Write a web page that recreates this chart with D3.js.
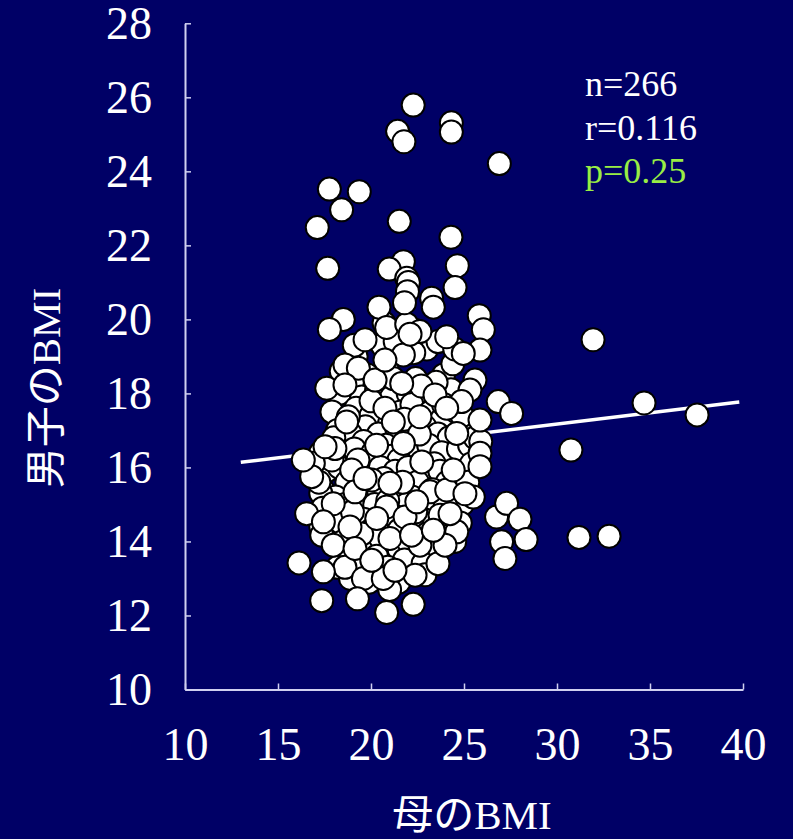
<!DOCTYPE html>
<html>
<head>
<meta charset="utf-8">
<script src="https://cdn.jsdelivr.net/npm/d3@7"></script>
<style>
html,body{margin:0;padding:0;background:#000066;}
svg{display:block;}
text{font-family:"Liberation Serif","Times New Roman","Noto Sans CJK JP",serif;fill:#ffffff;}
</style>
</head>
<body>
<svg id="chart" width="793" height="839"></svg>
<script>
// ---- data ----
const motherBMI = [
 19.8,20.9,22.4,23.9,19.0,
 18.3,19.5,20.3,21.1,22.0,22.9,24.3,23.5,
 17.9,19.2,20.0,21.6,22.2,23.2,23.8,24.6,19.7,21.0,
 18.2,18.9,20.4,21.4,22.1,22.9,23.6,24.2,25.1,19.6,20.8,
 17.3,18.5,19.1,20.1,21.1,22.4,23.1,23.8,24.7,25.3,19.8,21.5,23.4,
 17.6,18.3,19.4,20.5,21.3,22.0,23.0,23.7,24.8,25.4,18.7,20.7,22.5,24.1,
 17.4,18.1,19.7,20.4,21.4,22.2,23.5,24.5,18.6,19.3,21.9,23.0,24.9,20.2,
 17.8,18.4,19.6,20.6,21.2,22.0,22.8,23.4,24.2,19.0,21.5,23.0,20.0,
 18.5,19.8,20.5,21.5,22.0,23.3,24.5,18.8,20.3,21.8,22.8,19.4,20.9,
 18.2,19.9,21.5,22.9,18.9,21.0,
 20.0,21.8,22.6,20.3,19.3,21.7,23.3,20.9,22.4,19.5,24.0,18.0,23.9,21.2,22.7,20.6,23.0,19.2,24.4,22.3,
 17.3,17.4,25.2,25.6,24.9,18.4,20.7,22.4,23.6,19.1,21.3,24.5,17.9,17.3,24.8,18.6,23.6,20.1,25.9,17.2,
 22.27,21.43,21.77,24.32,24.32,26.90,17.76,19.37,18.42,17.11,
 21.52,24.30,17.67,21.74,20.98,24.64,21.92,22.01,21.96,24.52,
 23.26,23.35,20.43,18.51,17.76,19.68,20.84,21.92,22.63,24.07,
 25.82,26.04,25.86,24.96,21.74,18.60,19.32,20.22,21.65,17.62,
 18.60,23.44,25.59,25.32,24.87,26.84,27.56,20.75,18.78,22.63,
 24.07,25.86,18.69,24.61,25.86,25.86,21.74,22.73,18.06,16.90,
 16.81,18.96,20.04,21.02,19.14,23.17,24.07,24.42,25.50,20.84,
 21.83,23.71,24.61,18.87,17.35,17.97,19.14,21.02,22.63,23.98,
 16.54,16.13,17.44,19.59,20.66,22.37,17.35,19.27,20.84,22.27,
 26.75,27.29,28.01,27.02,27.20,28.34,31.94,30.75,34.68,37.53,
 31.18,32.80,
 21.8,22.1,20.75,21.2,17.53,16.36,19.68,22.46,17.97,17.44,
 20.31,22.18,20.04,21.29,23.35,24.25,25.05
];
const sonBMI = [
 18.5,18.6,18.4,18.5,18.3,
 18.0,17.9,18.1,17.9,18.0,17.8,18.1,18.3,
 17.5,17.6,17.4,17.5,17.7,17.5,17.3,17.5,17.1,17.2,
 17.0,16.9,16.9,17.0,16.8,17.1,16.9,16.8,17.0,16.7,16.6,
 16.4,16.3,16.5,16.4,16.3,16.5,16.6,16.4,16.5,16.6,16.1,16.2,16.1,
 15.9,16.0,15.8,16.0,15.9,16.0,15.8,15.9,15.8,16.1,15.6,15.7,15.6,15.6,
 15.4,15.2,15.2,15.4,15.3,15.2,15.1,15.4,15.0,14.9,15.0,14.9,15.0,15.0,
 14.6,14.5,14.6,14.5,14.7,14.5,14.6,14.5,14.4,14.8,14.3,14.2,14.3,
 14.0,13.9,14.1,13.8,14.0,13.8,14.0,13.6,13.6,13.5,13.4,13.4,13.3,
 13.3,12.9,12.9,13.1,13.0,12.7,
 17.8,17.3,16.9,16.6,16.2,15.6,15.4,15.1,14.8,14.2,15.0,16.8,17.7,18.4,18.2,19.3,19.2,19.0,18.8,19.1,
 15.3,14.9,15.6,16.8,17.4,18.6,19.9,19.7,19.4,19.3,19.4,19.2,16.2,14.4,14.5,13.3,13.4,13.2,16.7,15.6,
 25.79,25.08,24.80,25.31,25.06,24.21,23.52,23.45,22.96,22.48,
 22.65,22.22,21.38,21.56,21.36,21.45,21.11,21.00,20.75,20.86,
 20.57,20.33,20.33,20.00,19.73,19.45,19.78,19.87,19.67,19.53,
 20.10,19.72,19.17,19.08,19.04,18.77,18.68,18.36,18.27,18.14,
 18.23,17.96,18.36,18.09,17.78,17.78,17.46,17.60,17.37,17.37,
 17.60,17.28,17.23,16.92,16.38,16.02,16.65,16.15,16.51,16.11,
 15.75,15.93,15.66,15.57,15.34,15.34,15.39,15.93,15.20,14.93,
 14.66,14.71,14.26,14.39,14.17,13.90,13.81,14.08,13.90,13.90,
 14.75,13.42,13.18,13.00,13.00,13.09,12.40,12.45,12.08,12.30,
 14.66,15.03,14.60,13.99,13.54,14.05,19.45,16.47,17.74,17.42,
 14.11,14.14,
 20.45,19.6,18.90,17.23,16.56,16.2,15.70,15.07,15.02,14.53,
 14.62,14.17,13.49,13.22,14.30,14.75,15.29
];
const xTicks = [10,15,20,25,30,35,40];
const yTicks = [10,12,14,16,18,20,22,24,26,28];
const trendX = [13.0, 39.8];
const trendY = [16.14, 17.77];
const statLines = ["n=266","r=0.116","p=0.25"];
const statColors = ["#ffffff","#ffffff","#99ee44"];
const xTitle = "母のBMI";
const yTitle = "男子のBMI";

// ---- chart ----
const svg = d3.select("#chart");
svg.append("rect").attr("width",793).attr("height",839).attr("fill","#000066");

const x = d3.scaleLinear().domain([10,40]).range([185,743]);
const y = d3.scaleLinear().domain([10,28]).range([689.5,23.3]);
const axisColor = "#d0d0f0";

const gx = svg.append("g").attr("transform","translate(0,689.5)")
  .call(d3.axisBottom(x).tickValues(xTicks).tickSizeInner(-6).tickSizeOuter(0).tickPadding(38).tickFormat(d3.format("d")));
const gy = svg.append("g").attr("transform","translate(185,0)")
  .call(d3.axisLeft(y).tickValues(yTicks).tickSizeInner(-6).tickSizeOuter(0).tickPadding(33).tickFormat(d3.format("d")));
[gx,gy].forEach(g=>{
  g.select(".domain").attr("stroke",axisColor).attr("stroke-width",2);
  g.selectAll(".tick line").attr("stroke",axisColor).attr("stroke-width",1.5);
  g.selectAll(".tick text").attr("fill","#ffffff").attr("font-size",46)
    .attr("font-family",'"Liberation Serif","Times New Roman",serif');
});

// trend line
const pts = motherBMI.map((m,i)=>({m, s:sonBMI[i]}));
const tline = d3.line().x(d=>x(d[0])).y(d=>y(d[1]));
svg.append("path").datum(trendX.map((v,i)=>[v,trendY[i]]))
  .attr("d",tline).attr("stroke","#ffffff").attr("stroke-width",3.5).attr("fill","none");

// points
svg.append("g").selectAll("circle").data(pts).join("circle")
  .attr("cx",d=>x(d.m)).attr("cy",d=>y(d.s)).attr("r",11.5)
  .attr("fill","#ffffff").attr("stroke","#000000").attr("stroke-width",2);

// stats
svg.append("g").selectAll("text").data(statLines).join("text")
  .attr("x",585).attr("y",(d,i)=>96+i*43.5)
  .attr("font-size",36).style("fill",(d,i)=>statColors[i]).text(d=>d);

// titles
svg.append("text").attr("x",472).attr("y",829).attr("text-anchor","middle")
  .attr("font-size",41).text(xTitle);
svg.append("text").attr("transform","translate(60,388) rotate(-90)").attr("text-anchor","middle")
  .attr("font-size",41).text(yTitle);
</script>
</body>
</html>
